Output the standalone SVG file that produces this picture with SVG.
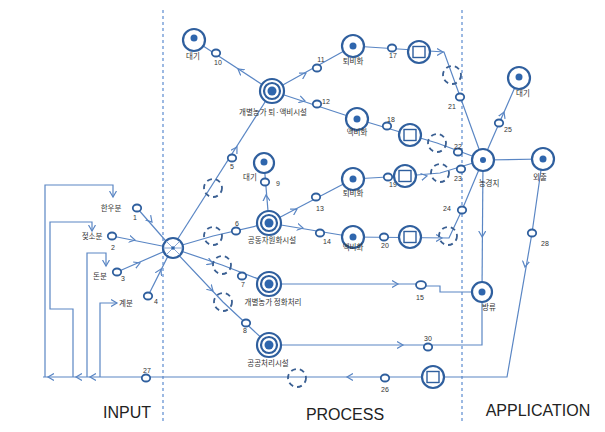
<svg xmlns="http://www.w3.org/2000/svg" width="605" height="432" viewBox="0 0 605 432">
<defs>
<style>
.ln{fill:none;stroke:#5a86c4;stroke-width:1.2}
.dv{fill:none;stroke:#5b8bd0;stroke-width:1.2;stroke-dasharray:3,3}
.sn{fill:#fff;stroke:#2f5f9e;stroke-width:1.8}
.bn{fill:#fff;stroke:#2f5f9e;stroke-width:2.2}
.dot{fill:#2f66ad}
.dc{fill:none;stroke:#3a5f92;stroke-width:1.8;stroke-dasharray:5,4}
.ar{fill:none;stroke:none;marker-end:url(#chev)}
.lb{font-family:"Noto Sans CJK KR","Noto Sans",sans-serif;font-size:7.5px;fill:#333;text-anchor:middle}
.nm{font-family:"Liberation Sans",sans-serif;font-size:7px;fill:#333;text-anchor:middle}
.hd{font-family:"Liberation Sans","Noto Sans",sans-serif;font-size:16px;fill:#222;text-anchor:middle}
</style>
<marker id="chev" viewBox="0 0 8 8" refX="6" refY="4" markerWidth="8" markerHeight="8" markerUnits="userSpaceOnUse" orient="auto">
<path d="M0,0.5 L6,4 L0,7.5" fill="none" stroke="#5a86c4" stroke-width="1.2"/>
</marker>
</defs>
<rect width="605" height="432" fill="#fff"/>
<line class="dv" x1="163" y1="10" x2="163" y2="422"/>
<line class="dv" x1="462" y1="10" x2="462" y2="422"/>

<g id="connectors">
<!-- feedback brackets -->
<path class="ln" d="M45,377 L45,185 L113,185 L113,197"/>
<path class="ln" d="M73,377 L73,309 L50,309 L50,222 L92,222 L92,231"/>
<path class="ln" d="M87,377 L87,253 L106,253 L106,266"/>
<path class="ln" d="M100,377 L100,303 L117,303"/>
<path class="ln" d="M43,377 L507,377 L532,233 L541,170"/>
<!-- inputs to hub -->
<path class="ln" d="M137,208 L172,248"/>
<path class="ln" d="M112,236 L172,248"/>
<path class="ln" d="M117,272 L172,248"/>
<path class="ln" d="M148,296 L172,248"/>
<!-- hub outputs -->
<path class="ln" d="M172,248 L272,91"/>
<path class="ln" d="M172,248 L213,236 L269,223"/>
<path class="ln" d="M172,248 L222,265 L269,283"/>
<path class="ln" d="M172,248 L223,302 L269,345"/>
<!-- 퇴액비 -->
<path class="ln" d="M272,91 L194,40"/>
<path class="ln" d="M272,91 L353,46"/>
<path class="ln" d="M272,91 L357,119"/>
<!-- 공동 -->
<path class="ln" d="M269,223 L264,163"/>
<path class="ln" d="M269,223 L353,179"/>
<path class="ln" d="M269,223 L353,237"/>
<!-- lines to 농경지 -->
<path class="ln" d="M353,46 L444,52 L483,160"/>
<path class="ln" d="M357,119 L410,135 L437,143 L483,160"/>
<path class="ln" d="M353,179 L405,176 L440,173 L483,160"/>
<path class="ln" d="M353,237 L449,238 L462,210 L483,160"/>
<!-- 농경지 outputs -->
<path class="ln" d="M483,160 L519,78"/>
<path class="ln" d="M483,160 L543,159"/>
<path class="ln" d="M483,160 L482,292"/>
<!-- 정화, 공공 -->
<path class="ln" d="M269,284 L416,284"/>
<path class="ln" d="M426,286 L440,286 L440,292 L482,292"/>
<path class="ln" d="M269,345 L482,345 L482,292"/>
<!-- arrows -->
<path class="ar" d="M148,217.5 L152,222"/>
<path class="ar" d="M130,239 L135,240"/>
<path class="ar" d="M135,265 L140,263"/>
<path class="ar" d="M159,273 L157,277 M159,273 L161,269"/>
<path class="ar" d="M234,152 L237,147"/>
<path class="ar" d="M209,262 L213,263.5"/>
<path class="ar" d="M209,287 L213,291"/>
<path class="ar" d="M242,72 L238,69"/>
<path class="ar" d="M301,76 L306,73"/>
<path class="ar" d="M300,99.5 L305,101"/>
<path class="ar" d="M266.4,200 L266,195"/>
<path class="ar" d="M292,212 L297,209"/>
<path class="ar" d="M298,227 L303,228"/>
<path class="ar" d="M438,52 L443,52"/>
<path class="ar" d="M421,177 L427,176"/>
<path class="ar" d="M436,238 L442,238"/>
<path class="ar" d="M502,117 L504,112"/>
<path class="ar" d="M482.2,231 L482.2,237"/>
<path class="ar" d="M393,284 L398,284"/>
<path class="ar" d="M397,345 L403,345"/>
<path class="ar" d="M526,261 L525,267"/>
<path class="ar" d="M353,377 L347,377"/>
<path class="ar" d="M54,377 L48,377"/>
<path class="ar" d="M82,377 L76,377"/>
<path class="ar" d="M96,377 L90,377"/>
<path class="ar" d="M113,192 L113,197"/>
<path class="ar" d="M92,226 L92,231"/>
<path class="ar" d="M106,261 L106,266"/>
<path class="ar" d="M112,303 L117,303"/>
</g>

<!-- hub -->
<g id="hub">
<circle class="bn" cx="173" cy="248" r="10" stroke-width="2.6"/>
<path d="M166,241 L180,255 M166,255 L180,241 M163,248 L183,248" stroke="#6b8fc6" stroke-width="0.8"/>
<circle class="dot" cx="173" cy="248" r="1.8"/>
</g>

<!-- sources -->
<g id="src1"><ellipse class="sn" cx="137" cy="208" rx="4.2" ry="3.5"/><text class="lb" x="111" y="211">한우분</text><text class="nm" x="135" y="220">1</text></g>
<g id="src2"><ellipse class="sn" cx="112" cy="236" rx="4.2" ry="3.5"/><text class="lb" x="92" y="239">젖소분</text><text class="nm" x="113" y="250">2</text></g>
<g id="src3"><ellipse class="sn" cx="117" cy="272" rx="4.2" ry="3.5"/><text class="lb" x="100" y="279">돈분</text><text class="nm" x="123" y="281">3</text></g>
<g id="src4"><ellipse class="sn" cx="148" cy="296" rx="4.2" ry="3.5"/><text class="lb" x="126" y="306">계분</text><text class="nm" x="156" y="304">4</text></g>

<!-- small numbered nodes -->
<g id="n5"><ellipse class="sn" cx="232" cy="158" rx="4.2" ry="3.5"/><text class="nm" x="232" y="169">5</text></g>
<g id="n6"><ellipse class="sn" cx="236" cy="231" rx="4.2" ry="3.5"/><text class="nm" x="237" y="226">6</text></g>
<g id="n7"><ellipse class="sn" cx="242" cy="276" rx="4.2" ry="3.5"/><text class="nm" x="243" y="287">7</text></g>
<g id="n8"><ellipse class="sn" cx="246" cy="323" rx="4.2" ry="3.5"/><text class="nm" x="245" y="333">8</text></g>
<g id="n9"><ellipse class="sn" cx="265" cy="182" rx="4.2" ry="3.5"/><text class="nm" x="278" y="186">9</text></g>
<g id="n10"><ellipse class="sn" cx="216" cy="53" rx="4.2" ry="3.5"/><text class="nm" x="218" y="65">10</text></g>
<g id="n11"><ellipse class="sn" cx="317" cy="68" rx="4.2" ry="3.5"/><text class="nm" x="321" y="62">11</text></g>
<g id="n12"><ellipse class="sn" cx="317" cy="104" rx="4.2" ry="3.5"/><text class="nm" x="326" y="104">12</text></g>
<g id="n13"><ellipse class="sn" cx="316" cy="197" rx="4.2" ry="3.5"/><text class="nm" x="320" y="211">13</text></g>
<g id="n14"><ellipse class="sn" cx="320" cy="233" rx="4.2" ry="3.5"/><text class="nm" x="327" y="244">14</text></g>
<g id="n15"><ellipse class="sn" cx="421" cy="285" rx="5" ry="3.8"/><text class="nm" x="420" y="300">15</text></g>
<g id="n17"><ellipse class="sn" cx="392" cy="48" rx="4.2" ry="3.5"/><text class="nm" x="393" y="58">17</text></g>
<g id="n18"><ellipse class="sn" cx="387" cy="126" rx="4.2" ry="3.5"/><text class="nm" x="391" y="122">18</text></g>
<g id="n19"><ellipse class="sn" cx="388" cy="177" rx="4.2" ry="3.5"/><text class="nm" x="393" y="187">19</text></g>
<g id="n20"><ellipse class="sn" cx="384" cy="237" rx="4.2" ry="3.5"/><text class="nm" x="385" y="248">20</text></g>
<g id="n21"><ellipse class="sn" cx="460" cy="97" rx="4.2" ry="3.5"/><text class="nm" x="452" y="109">21</text></g>
<g id="n22"><ellipse class="sn" cx="458" cy="152" rx="4.2" ry="3.5"/><text class="nm" x="458" y="149">22</text></g>
<g id="n23"><ellipse class="sn" cx="461" cy="169" rx="4.2" ry="3.5"/><text class="nm" x="458" y="181">23</text></g>
<g id="n24"><ellipse class="sn" cx="462" cy="210" rx="4.2" ry="3.5"/><text class="nm" x="447" y="211">24</text></g>
<g id="n25"><ellipse class="sn" cx="499" cy="123" rx="4.2" ry="3.5"/><text class="nm" x="508" y="132">25</text></g>
<g id="n26"><ellipse class="sn" cx="385" cy="378" rx="4.2" ry="3.5"/><text class="nm" x="385" y="392">26</text></g>
<g id="n27"><ellipse class="sn" cx="146" cy="378" rx="4.2" ry="3.5"/><text class="nm" x="147" y="373">27</text></g>
<g id="n28"><ellipse class="sn" cx="532" cy="233" rx="4.2" ry="3.5"/><text class="nm" x="545" y="246">28</text></g>
<g id="n30"><ellipse class="sn" cx="428" cy="347" rx="4.2" ry="3.5"/><text class="nm" x="428" y="341">30</text></g>

<!-- dashed circles -->
<g id="dashed">
<circle class="dc" cx="213" cy="188" r="9"/>
<circle class="dc" cx="213" cy="236" r="9"/>
<circle class="dc" cx="222" cy="265" r="9"/>
<circle class="dc" cx="223" cy="302" r="9"/>
<circle class="dc" cx="452" cy="75" r="9"/>
<circle class="dc" cx="437" cy="143" r="9"/>
<circle class="dc" cx="440" cy="173" r="9"/>
<circle class="dc" cx="448" cy="236" r="9"/>
<circle class="dc" cx="297" cy="378" r="9"/>
</g>

<!-- square-circle nodes -->
<g id="sq1"><circle class="bn" cx="419" cy="52" r="11" stroke-width="2.6"/><rect x="413" y="46.5" width="12" height="11" fill="none" stroke="#2f5f9e" stroke-width="1.4"/></g>
<g id="sq2"><circle class="bn" cx="410" cy="135" r="11" stroke-width="2.6"/><rect x="404" y="129.5" width="12" height="11" fill="none" stroke="#2f5f9e" stroke-width="1.4"/></g>
<g id="sq3"><circle class="bn" cx="405" cy="176" r="11" stroke-width="2.6"/><rect x="399" y="170.5" width="12" height="11" fill="none" stroke="#2f5f9e" stroke-width="1.4"/></g>
<g id="sq4"><circle class="bn" cx="410" cy="237" r="11" stroke-width="2.6"/><rect x="404" y="231.5" width="12" height="11" fill="none" stroke="#2f5f9e" stroke-width="1.4"/></g>
<g id="sq5"><circle class="bn" cx="433" cy="377" r="11" stroke-width="2.6"/><rect x="427" y="371.5" width="12" height="11" fill="none" stroke="#2f5f9e" stroke-width="1.4"/></g>

<!-- triple concentric facility nodes -->
<g id="fac1"><circle class="bn" cx="272" cy="91" r="12"/><circle class="bn" cx="272" cy="91" r="8" stroke-width="1.6"/><circle class="dot" cx="272" cy="91" r="4.5"/><text class="lb" x="273" y="115">개별농가 퇴·액비시설</text></g>
<g id="fac2"><circle class="bn" cx="269" cy="223" r="12"/><circle class="bn" cx="269" cy="223" r="8" stroke-width="1.6"/><circle class="dot" cx="269" cy="223" r="4.5"/><text class="lb" x="272" y="243">공동자원화시설</text></g>
<g id="fac3"><circle class="bn" cx="269" cy="284" r="12"/><circle class="bn" cx="269" cy="284" r="8" stroke-width="1.6"/><circle class="dot" cx="269" cy="284" r="4.5"/><text class="lb" x="273" y="305">개별농가 정화처리</text></g>
<g id="fac4"><circle class="bn" cx="269" cy="345" r="12"/><circle class="bn" cx="269" cy="345" r="8" stroke-width="1.6"/><circle class="dot" cx="269" cy="345" r="4.5"/><text class="lb" x="268" y="366">공공처리시설</text></g>

<!-- single dot nodes -->
<g id="air1"><circle class="bn" cx="194" cy="40" r="11"/><circle class="dot" cx="194" cy="38" r="3.5"/><text class="lb" x="193" y="59">대기</text></g>
<g id="air2"><circle class="bn" cx="264" cy="163" r="10"/><circle class="dot" cx="264" cy="162" r="3.5"/><text class="lb" x="250" y="180">대기</text></g>
<g id="air3"><circle class="bn" cx="519" cy="78" r="11"/><circle class="dot" cx="519" cy="77" r="3.5"/><text class="lb" x="523" y="96">대기</text></g>
<g id="comp1"><circle class="bn" cx="353" cy="46" r="11"/><circle class="dot" cx="353" cy="46" r="3.5"/><text class="lb" x="353" y="64">퇴비화</text></g>
<g id="liq1"><circle class="bn" cx="357" cy="119" r="11"/><circle class="dot" cx="357" cy="119" r="3.5"/><text class="lb" x="357" y="135">액비화</text></g>
<g id="comp2"><circle class="bn" cx="353" cy="179" r="11"/><circle class="dot" cx="353" cy="179" r="3.5"/><text class="lb" x="353" y="196">퇴비화</text></g>
<g id="liq2"><circle class="bn" cx="353" cy="237" r="11"/><circle class="dot" cx="353" cy="237" r="3.5"/><text class="lb" x="353" y="250">액비화</text></g>
<g id="farm"><circle class="bn" cx="483" cy="160" r="11"/><circle class="dot" cx="483" cy="160" r="3"/><text class="lb" x="489" y="186">농경지</text></g>
<g id="out"><circle class="bn" cx="543" cy="159" r="11"/><circle class="dot" cx="543" cy="159" r="3.5"/><text class="lb" x="540" y="180">외출</text></g>
<g id="dis"><circle class="bn" cx="482" cy="292" r="10"/><circle class="dot" cx="482" cy="292" r="3.5"/><text class="lb" x="489" y="310">방류</text></g>

<g id="headers">
<text class="hd" x="127" y="418">INPUT</text>
<text class="hd" x="345" y="420">PROCESS</text>
<text class="hd" x="538" y="416">APPLICATION</text>
</g>
</svg>
